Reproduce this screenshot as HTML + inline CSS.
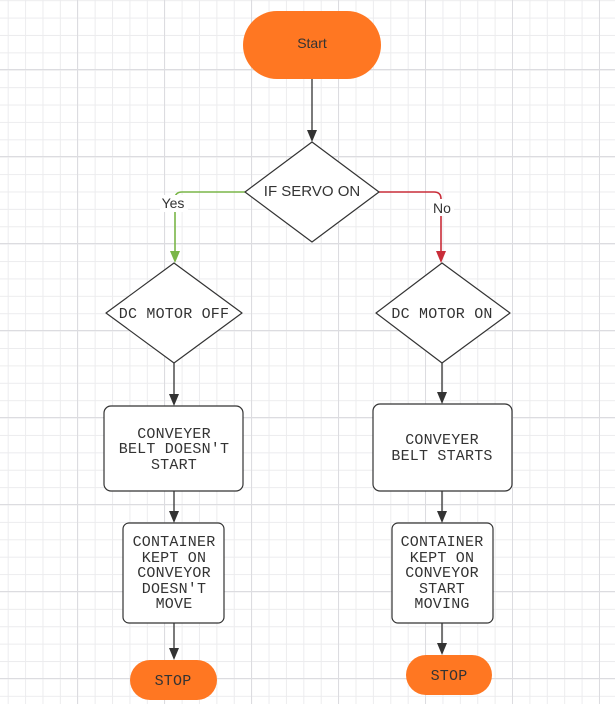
<!DOCTYPE html>
<html><head><meta charset="utf-8"><style>
html,body{margin:0;padding:0;}
body{width:615px;height:704px;overflow:hidden;background-color:#fff;
background-image:
linear-gradient(to right, #dcdce0 1px, transparent 1px),
linear-gradient(to bottom, #dcdce0 1px, transparent 1px),
linear-gradient(to right, #ececee 1px, transparent 1px),
linear-gradient(to bottom, #ececee 1px, transparent 1px);
background-size:87px 87px,87px 87px,17.4px 17.4px,17.4px 17.4px;
background-position:77px 0,0 69px,7.7px 0,0 0.2px;}
svg{position:absolute;left:0;top:0;}
.m{font-family:"Liberation Mono",monospace;font-size:15px;letter-spacing:0.2px;fill:#333;text-anchor:middle;}
.s{font-family:"Liberation Sans",sans-serif;fill:#333;text-anchor:middle;}
</style></head><body>
<svg width="615" height="704" viewBox="0 0 615 704">
<g stroke="#333" stroke-width="1.3" fill="none">
<line x1="312" y1="79" x2="312" y2="132"/>
<line x1="174" y1="363" x2="174" y2="396"/>
<line x1="174" y1="491" x2="174" y2="513"/>
<line x1="174" y1="623" x2="174" y2="650"/>
<line x1="442" y1="363" x2="442" y2="394"/>
<line x1="442" y1="491" x2="442" y2="513"/>
<line x1="442" y1="623" x2="442" y2="645"/>
</g>
<g fill="#333">
<path d="M307,130 L317,130 L312,142Z"/>
<path d="M169,394 L179,394 L174,406Z"/>
<path d="M169,511 L179,511 L174,523Z"/>
<path d="M169,648 L179,648 L174,660Z"/>
<path d="M437,392 L447,392 L442,404Z"/>
<path d="M437,511 L447,511 L442,523Z"/>
<path d="M437,643 L447,643 L442,655Z"/>
</g>
<path d="M245,192 L182,192 Q175,192 175,199 L175,253" stroke="#7ab648" stroke-width="1.6" fill="none"/>
<path d="M170,251 L180,251 L175,263Z" fill="#7ab648"/>
<path d="M379,192 L434,192 Q441,192 441,199 L441,253" stroke="#c92d39" stroke-width="1.6" fill="none"/>
<path d="M436,251 L446,251 L441,263Z" fill="#c92d39"/>
<rect x="160" y="195" width="28" height="17" fill="#fff"/>
<text x="173" y="208" class="s" font-size="14">Yes</text>
<rect x="430" y="199" width="24" height="17" fill="#fff"/>
<text x="442" y="213" class="s" font-size="14">No</text>
<rect x="243" y="11" width="138" height="68" rx="34" fill="#ff7722"/>
<text x="312" y="48" class="s" font-size="14">Start</text>
<g fill="#fff" stroke="#333" stroke-width="1.2" stroke-linejoin="round">
<path d="M312,142 L379,192 L312,242 L245,192Z"/>
<path d="M174,263 L242,313 L174,363 L106,313Z"/>
<path d="M442,263 L510,313 L442,363 L376,313Z"/>
<rect x="104" y="406" width="139" height="85" rx="7"/>
<rect x="123" y="523" width="101" height="100" rx="6"/>
<rect x="373" y="404" width="139" height="87" rx="7"/>
<rect x="392" y="523" width="101" height="100" rx="6"/>
</g>
<text x="312" y="196" class="s" font-size="15">IF SERVO ON</text>
<text x="174" y="318" class="m">DC MOTOR OFF</text>
<text x="442" y="318" class="m">DC MOTOR ON</text>
<text class="m"><tspan x="174" y="438">CONVEYER</tspan><tspan x="174" y="453">BELT DOESN'T</tspan><tspan x="174" y="469">START</tspan></text>
<text class="m"><tspan x="174" y="546">CONTAINER</tspan><tspan x="174" y="562">KEPT ON</tspan><tspan x="174" y="577">CONVEYOR</tspan><tspan x="174" y="593">DOESN'T</tspan><tspan x="174" y="608">MOVE</tspan></text>
<text class="m"><tspan x="442" y="444">CONVEYER</tspan><tspan x="442" y="460">BELT STARTS</tspan></text>
<text class="m"><tspan x="442" y="546">CONTAINER</tspan><tspan x="442" y="562">KEPT ON</tspan><tspan x="442" y="577">CONVEYOR</tspan><tspan x="442" y="593">START</tspan><tspan x="442" y="608">MOVING</tspan></text>
<rect x="130" y="660" width="87" height="40" rx="20" fill="#ff7722"/>
<rect x="406" y="655" width="86" height="40" rx="20" fill="#ff7722"/>
<text x="173" y="685" class="m">STOP</text>
<text x="449" y="680" class="m">STOP</text>
</svg>
</body></html>
